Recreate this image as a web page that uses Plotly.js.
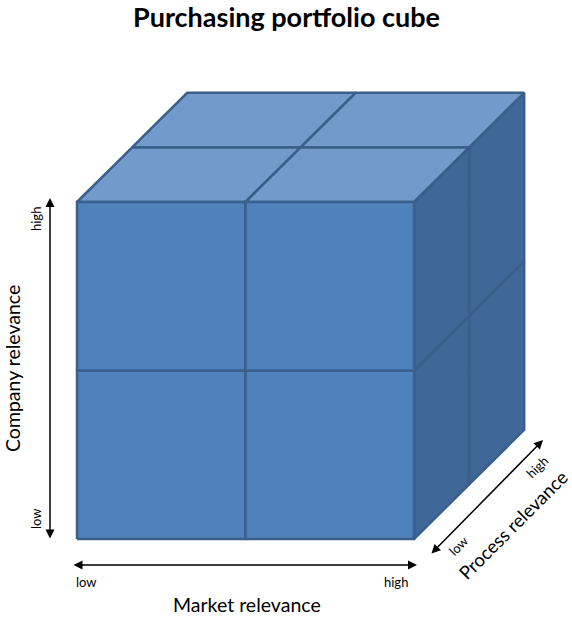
<!DOCTYPE html>
<html><head><meta charset="utf-8">
<script src="https://cdn.plot.ly/plotly-3.0.1.min.js"></script>
<style>html,body{margin:0;padding:0;background:#fff}#c{width:572px;height:618px}</style>
</head><body><div id="c"></div>
<script>
// ---- data ----
const title = "Purchasing portfolio cube";
const marketLevels = ["low", "high"];   // x: market relevance
const companyLevels = ["low", "high"];  // y: company relevance
const processLevels = ["low", "high"];  // depth: process relevance
const axisNames = ["Market relevance", "Company relevance", "Process relevance"];

// ---- projection / style ----
const unitPx = 168.5, originPx = [77, 539];
const depthX = 0.327, depthY = 0.324;
const W = 572, H = 618;
const faceColors = {front: "#4F81BD", top: "#729ACA", side: "#3F6797"};
const edge = "#3A5F8B";

function P(m, c, p) { return [m + depthX * p, c + depthY * p]; }
function dx(px) { return (px - originPx[0]) / unitPx; }
function dy(py) { return (originPx[1] - py) / unitPx; }

const nM = marketLevels.length, nC = companyLevels.length, nP = processLevels.length;
const traces = [];
function face(pts, color) {
  const xs = pts.map(q => q[0]).concat([pts[0][0]]);
  const ys = pts.map(q => q[1]).concat([pts[0][1]]);
  traces.push({type: "scatter", mode: "lines", x: xs, y: ys, fill: "toself",
    fillcolor: color, line: {color: edge, width: 2.5}, hoverinfo: "skip", showlegend: false});
}
// right side (m = nM)
for (let c = 0; c < nC; c++) for (let p = nP - 1; p >= 0; p--)
  face([P(nM, c, p), P(nM, c, p + 1), P(nM, c + 1, p + 1), P(nM, c + 1, p)], faceColors.side);
// top (c = nC)
for (let p = nP - 1; p >= 0; p--) for (let m = 0; m < nM; m++)
  face([P(m, nC, p), P(m + 1, nC, p), P(m + 1, nC, p + 1), P(m, nC, p + 1)], faceColors.top);
// front (p = 0)
for (let c = 0; c < nC; c++) for (let m = 0; m < nM; m++)
  face([P(m, c, 0), P(m + 1, c, 0), P(m + 1, c + 1, 0), P(m, c + 1, 0)], faceColors.front);

const fontF = "Lato, Open Sans, sans-serif";
function arrow(x0, y0, x1, y1) {
  return {x: dx(x1), y: dy(y1), ax: dx(x0), ay: dy(y0), xref: "x", yref: "y", axref: "x", ayref: "y",
    showarrow: true, arrowhead: 2, startarrowhead: 2, arrowside: "end+start", arrowsize: 1.2,
    startarrowsize: 1.2, arrowwidth: 1.5, arrowcolor: "#000", text: ""};
}
function label(text, x, y, size, angle) {
  return {x: dx(x), y: dy(y), xref: "x", yref: "y", text: text, showarrow: false,
    xanchor: "center", yanchor: "middle",
    textangle: angle || 0, font: {family: fontF, size: size, color: "#000"}};
}
const annotations = [
  arrow(50, 540, 50, 198),
  arrow(72, 565, 417, 565),
  arrow(430, 555, 543, 440),
  label(companyLevels[1], 36, 219, 13, -90),
  label(companyLevels[0], 36, 519, 13, -90),
  label(axisNames[1], 12, 369, 19.5, -90),
  label(marketLevels[0], 86, 582, 13),
  label(marketLevels[1], 396, 582, 13),
  label(axisNames[0], 247, 604, 19.5),
  label(processLevels[0], 458, 546, 13, -45),
  label(processLevels[1], 537, 467, 13, -45),
  label(axisNames[2], 513, 525, 18.5, -45),
  {x: 0.5, y: 1 - 17 / H, xref: "paper", yref: "paper", text: "<b>" + title + "</b>", showarrow: false,
    xanchor: "center", yanchor: "middle",
    font: {family: fontF, size: 27, color: "#000"}}
];

const layout = {
  width: W, height: H, margin: {l: 0, r: 0, t: 0, b: 0},
  paper_bgcolor: "#fff", plot_bgcolor: "#fff",
  xaxis: {range: [dx(0), dx(W)], visible: false, fixedrange: true},
  yaxis: {range: [dy(H), dy(0)], visible: false, fixedrange: true},
  annotations: annotations, showlegend: false
};
Plotly.newPlot("c", traces, layout, {displayModeBar: false, staticPlot: true});
</script></body></html>
